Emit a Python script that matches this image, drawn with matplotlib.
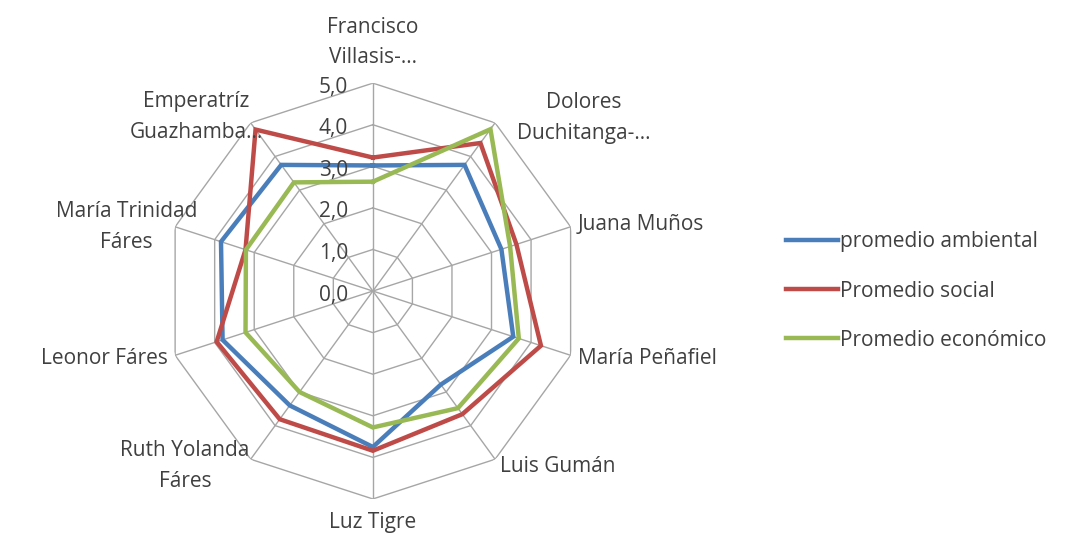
import numpy as np
import matplotlib.pyplot as plt

plt.rcParams['font.family'] = ['Open Sans', 'DejaVu Sans']

categorias = ["Francisco\nVillasis-...", "Dolores\nDuchitanga-...", "Juana Muños",
              "María Peñafiel", "Luis Gumán", "Luz Tigre", "Ruth Yolanda\nFáres",
              "Leonor Fáres", "María Trinidad\nFáres", "Emperatríz\nGuazhamba..."]
ambiental = [3.02, 3.75, 3.25, 3.55, 2.78, 3.75, 3.40, 3.80, 3.84, 3.75]
social = [3.21, 4.40, 3.63, 4.25, 3.66, 3.84, 3.81, 3.95, 3.22, 4.80]
economico = [2.63, 4.81, 3.47, 3.69, 3.48, 3.28, 3.00, 3.22, 3.21, 3.23]
nombres = ["promedio ambiental", "Promedio social", "Promedio económico"]
colores = ["#4a7ebb", "#be4b48", "#98b954"]
niveles = [0, 1, 2, 3, 4, 5]

# posicion de cada etiqueta respecto al vertice (pixeles): dx, dy, ha, va
pos_etiq = [(0, 15, 'center', 'bottom'), (22, 5, 'left', 'center'), (7, 2, 'left', 'center'),
            (7, -3, 'left', 'center'), (5, -7, 'left', 'center'), (0, -24, 'center', 'center'),
            (-1, -7, 'right', 'center'), (-7, -3, 'right', 'center'), (22, 0, 'right', 'center'),
            (12, 6, 'right', 'center')]

n = len(categorias)
ang = np.arange(n) * 2 * np.pi / n
ang_c = np.append(ang, ang[0])

fig = plt.figure(figsize=(10.69, 5.36), dpi=100)
ax = fig.add_axes([0.1543, 0.069, 0.389, 0.776], projection='polar')
ax.set_theta_zero_location('N')
ax.set_theta_direction(-1)
ax.set_ylim(0, 5)
ax.grid(False)
ax.set_xticks([])
ax.set_yticks([])
ax.spines['polar'].set_visible(False)

# rejilla poligonal
for r in niveles[1:]:
    ax.plot(ang_c, [r] * (n + 1), color='#a6a6a6', lw=1, zorder=1)
for a in ang:
    ax.plot([a, a], [0, 5], color='#a6a6a6', lw=1, zorder=1)

for vals, nom, col in zip([ambiental, social, economico], nombres, colores):
    ax.plot(ang_c, vals + vals[:1], color=col, lw=3.2, label=nom, zorder=3,
            solid_joinstyle='miter')

for r in niveles:
    ax.annotate(f"{r:.1f}".replace('.', ','), xy=(0, r), xytext=(-25, -4),
                textcoords='offset pixels', ha='right', va='center',
                fontsize=15, color='#404040', zorder=4)

for a, lab, (dx, dy, ha, va) in zip(ang, categorias, pos_etiq):
    ax.annotate(lab, xy=(a, 5), xytext=(dx, dy), textcoords='offset pixels',
                ha=ha, va=va, multialignment='center', linespacing=1.6,
                fontsize=15, color='#404040', annotation_clip=False)

fig.legend(loc='center left', bbox_to_anchor=(0.718, 0.457), frameon=False,
           fontsize=15, handlelength=2.5, handletextpad=0.1, labelspacing=1.35,
           labelcolor='#404040')

fig.savefig('out.png', dpi=100)
